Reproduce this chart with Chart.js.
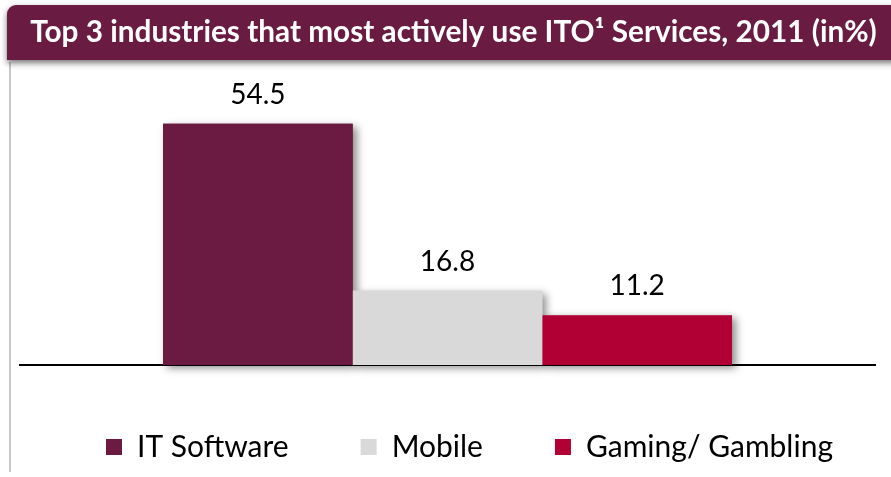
<!DOCTYPE html>
<html>
<head>
<meta charset="utf-8">
<script src="https://cdn.jsdelivr.net/npm/chart.js@4/dist/chart.umd.min.js"></script>
<style>
  html, body { margin: 0; padding: 0; background: #ffffff; }
  #wrap { position: relative; width: 891px; height: 477px; overflow: hidden; }
  canvas { display: block; }
</style>
</head>
<body>
<div id="wrap"><canvas id="chart" width="891" height="477"></canvas></div>
<script>
// ---- data ----
const chartTitle = 'Top 3 industries that most actively use ITO\u00B9 Services, 2011 (in%)';
const categories = ['2011'];
const seriesNames = ['IT Software', 'Mobile', 'Gaming/ Gambling'];
const itSoftware = [54.5];
const mobile = [16.8];
const gamingGambling = [11.2];
const seriesColors = ['#6b1b41', '#d9d9d9', '#b00034'];
const yMin = 0;
const yMax = 66.7;

// ---- fit title font to the banner width ----
const FONT = 'Lato, "Open Sans", "DejaVu Sans", sans-serif';
const mctx = document.createElement('canvas').getContext('2d');
mctx.font = 'bold 100px ' + FONT;
const titleSize = Math.min(32, 100 * 847 / mctx.measureText(chartTitle).width);
const LEGEND_FONT = 30;
const LEGEND_PAD = 72;

// ---- plugins ----
const backdrop = {
  id: 'backdrop',
  beforeDraw(chart) {
    const ctx = chart.ctx;
    ctx.save();
    ctx.fillStyle = '#c8c8c8';
    ctx.fillRect(9, 62, 2, 410);
    ctx.shadowColor = 'rgba(0,0,0,0.55)';
    ctx.shadowBlur = 6;
    ctx.shadowOffsetX = 0;
    ctx.shadowOffsetY = 3;
    ctx.fillStyle = '#6a1b41';
    ctx.beginPath();
    ctx.roundRect(7, 5, 900, 55, [9, 0, 0, 0]);
    ctx.fill();
    ctx.restore();
  }
};

// place title and legend like the original slide
const placement = {
  id: 'placement',
  afterLayout(chart) {
    const t = chart.titleBlock;
    if (t) { t.left += 8; t.right += 8; }
    const lg = chart.legend;
    if (lg && lg.lineWidths) {
      const curStart = (lg.left + LEGEND_PAD + lg.right - lg.lineWidths[0]) / 2;
      const dx = 106 - curStart;
      lg.left += dx; lg.right += dx;
      lg.top = 447 - LEGEND_PAD - LEGEND_FONT / 2;
      lg.bottom = 476;
    }
  }
};

const barShadows = {
  id: 'barShadows',
  beforeDatasetsDraw(chart) {
    const ctx = chart.ctx;
    ctx.save();
    ctx.shadowColor = 'rgba(0,0,0,0.45)';
    ctx.shadowBlur = 8;
    ctx.shadowOffsetX = 4;
    ctx.shadowOffsetY = 3;
    chart.data.datasets.forEach((ds, i) => {
      const meta = chart.getDatasetMeta(i);
      meta.data.forEach(el => {
        const p = el.getProps(['x', 'y', 'base', 'width'], true);
        ctx.fillStyle = ds.backgroundColor;
        ctx.fillRect(p.x - p.width / 2, p.y, p.width, p.base - p.y);
      });
    });
    ctx.restore();
  }
};

const valueLabels = {
  id: 'valueLabels',
  afterDatasetsDraw(chart) {
    const ctx = chart.ctx;
    ctx.save();
    ctx.fillStyle = '#000000';
    ctx.font = '28px ' + FONT;
    ctx.textAlign = 'center';
    ctx.textBaseline = 'alphabetic';
    chart.data.datasets.forEach((ds, i) => {
      const meta = chart.getDatasetMeta(i);
      meta.data.forEach((el, j) => {
        const p = el.getProps(['x', 'y'], true);
        ctx.fillText(ds.data[j].toFixed(1), p.x, p.y - 20);
      });
    });
    ctx.restore();
  }
};

const seriesData = [itSoftware, mobile, gamingGambling];

const blankAxis = (pos, w) => ({
  position: pos,
  display: true,
  grid: { display: false },
  ticks: { display: false },
  border: { display: false },
  afterFit(scale) { scale.width = w; }
});

new Chart(document.getElementById('chart'), {
  type: 'bar',
  data: {
    labels: categories,
    datasets: seriesNames.map((name, i) => ({
      label: name,
      data: seriesData[i],
      backgroundColor: seriesColors[i],
      borderWidth: 0,
      categoryPercentage: 0.6655,
      barPercentage: 1.0
    }))
  },
  options: {
    responsive: false,
    animation: false,
    devicePixelRatio: 1,
    layout: { padding: { left: 0, right: 0, top: 0, bottom: 0 } },
    scales: {
      x: {
        grid: { display: false },
        ticks: { display: false },
        border: { display: true, color: '#000000', width: 2 },
        afterFit(scale) { scale.height = 0; }
      },
      y: Object.assign(blankAxis('left', 20), { min: yMin, max: yMax }),
      yRight: blankAxis('right', 16)
    },
    plugins: {
      title: {
        display: true,
        text: chartTitle,
        color: '#ffffff',
        font: { family: FONT, size: titleSize, weight: 'bold' },
        padding: { top: 15, bottom: 19 }
      },
      legend: {
        display: true,
        position: 'bottom',
        maxHeight: 114,
        labels: {
          boxWidth: 16,
          boxHeight: 16,
          padding: LEGEND_PAD,
          color: '#000000',
          font: { family: FONT, size: LEGEND_FONT }
        }
      },
      tooltip: { enabled: false }
    }
  },
  plugins: [backdrop, placement, barShadows, valueLabels]
});
</script>
</body>
</html>
